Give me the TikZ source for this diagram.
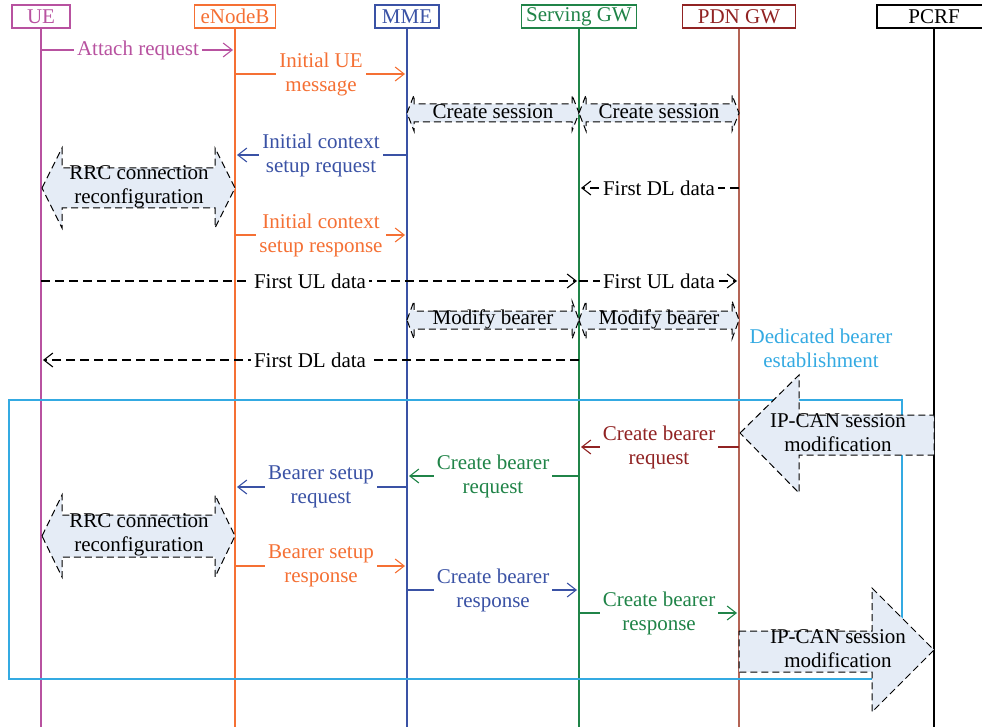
\documentclass[tikz,border=0pt]{standalone}
\usepackage{fontspec}
\setmainfont{Liberation Serif}
\usepackage{xcolor}
\usepackage{tikz}
\usetikzlibrary{arrows.meta}
\definecolor{uec}{RGB}{184,82,160}
\definecolor{enbc}{RGB}{245,112,52}
\definecolor{mmec}{RGB}{58,82,165}
\definecolor{sgwc}{RGB}{32,132,72}
\definecolor{pgwc}{RGB}{145,35,35}
\definecolor{pgwline}{RGB}{180,100,85}
\definecolor{boxc}{RGB}{52,170,226}
\definecolor{shade}{RGB}{229,236,246}

% double block arrow: left x, right x, centre y, head half-height, body half-height, head depth
\newcommand\twoway[6]{%
  \draw[blk] (#1,#3) -- ++(#6,-#4) -- ++(0,#4-#5) -- (#2-#6,#3-#5) -- ++(0,#5-#4) -- (#2,#3)
    -- ++(-#6,#4) -- ++(0,#5-#4) -- (#1+#6,#3+#5) -- ++(0,#4-#5) -- cycle;}

\begin{document}
\begin{tikzpicture}[x=1pt,y=-1pt,font=\fontsize{21}{24}\selectfont,
 head/.style={draw,line width=1.1pt,minimum height=23pt,inner sep=0pt},
 msg/.style={line width=1.1pt,-{Straight Barb[length=9pt,width=14pt]},shorten >=2pt},
 dashmsg/.style={black,dash pattern=on 9pt off 5pt},
 lbl/.style={fill=white,inner xsep=3pt,inner ysep=0pt,align=center},
 blk/.style={fill=shade,draw=black,line width=1pt,dash pattern=on 7pt off 4pt},
 blktxt/.style={align=center,inner sep=0pt}]
 \clip (0,0) rectangle (982,727);
 \foreach \n/\x/\w/\c/\t in {ue/41/58/uec/UE,enb/235/81/enbc/eNodeB,mme/407/64/mmec/MME,
   sgw/579/115/sgwc/Serving GW,pgw/739/113/pgwc/PDN GW,pcrf/934/114/black/PCRF}{
   \node[head,draw=\c,text=\c,minimum width=\w] (\n) at (\x,16.5) {\t};
 }
 \foreach \n/\c in {ue/uec,enb/enbc,mme/mmec,sgw/sgwc,pgw/pgwline,pcrf/black}
   \draw[\c,line width=1.1pt] (\n.south) -- (\n.south |- 0,727);

 \draw[boxc,line width=1.1pt] (9,400) rectangle (902,679);

 \foreach \a/\b/\y/\s/\t in {ue/enb/50/uec/{Attach request},
   enb/mme/74/enbc/{Initial UE\\message},
   mme/enb/155/mmec/{Initial context\\setup request},
   pgw/sgw/188/dashmsg/{First DL data},
   enb/mme/235/enbc/{Initial context\\setup response},
   ue/sgw/281/dashmsg/{First UL data},
   sgw/pgw/281/dashmsg/{First UL data},
   sgw/ue/360/dashmsg/{First DL data},
   pgw/sgw/447/pgwc/{Create bearer\\request},
   sgw/mme/476/sgwc/{Create bearer\\request},
   mme/enb/487/mmec/{Bearer setup\\request},
   enb/mme/566/enbc/{Bearer setup\\response},
   mme/sgw/590/mmec/{Create bearer\\response},
   sgw/pgw/613/sgwc/{Create bearer\\response}}{
   \draw[msg,\s] (\a |- 0,\y) -- node[lbl]{\t} (\b |- 0,\y);
 }

 \twoway{407}{579}{113}{18}{9}{7} \node[blktxt] (cs1) at (493,112) {Create session};
 \twoway{579}{739}{113}{18}{9}{7} \node[blktxt] (cs2) at (659,112) {Create session};
 \twoway{407}{579}{320}{19}{9}{7} \node[blktxt] (mb1) at (493,319) {Modify bearer};
 \twoway{579}{739}{320}{19}{9}{7} \node[blktxt] (mb2) at (659,319) {Modify bearer};
 \twoway{42}{235}{188}{40}{20}{20} \node[blktxt] (rrc1) at (139,187) {RRC connection\\reconfiguration};
 \twoway{42}{235}{536}{41}{21}{20} \node[blktxt] (rrc2) at (139,535) {RRC connection\\reconfiguration};

 \draw[blk] (740,433) -- (799,375) -- (799,415) -- (934,415) -- (934,455) -- (799,455) -- (799,493) -- cycle;
 \node[blktxt] (ipc1) at (838,433) {IP-CAN session\\modification};
 \draw[blk] (739,631) -- (872,631) -- (872,588) -- (934,650) -- (872,712) -- (872,672) -- (739,672) -- cycle;
 \node[blktxt] (ipc2) at (838,649) {IP-CAN session\\modification};

 \node[boxc,align=center] (ded) at (821,348) {Dedicated bearer\\establishment};
\end{tikzpicture}
\end{document}
